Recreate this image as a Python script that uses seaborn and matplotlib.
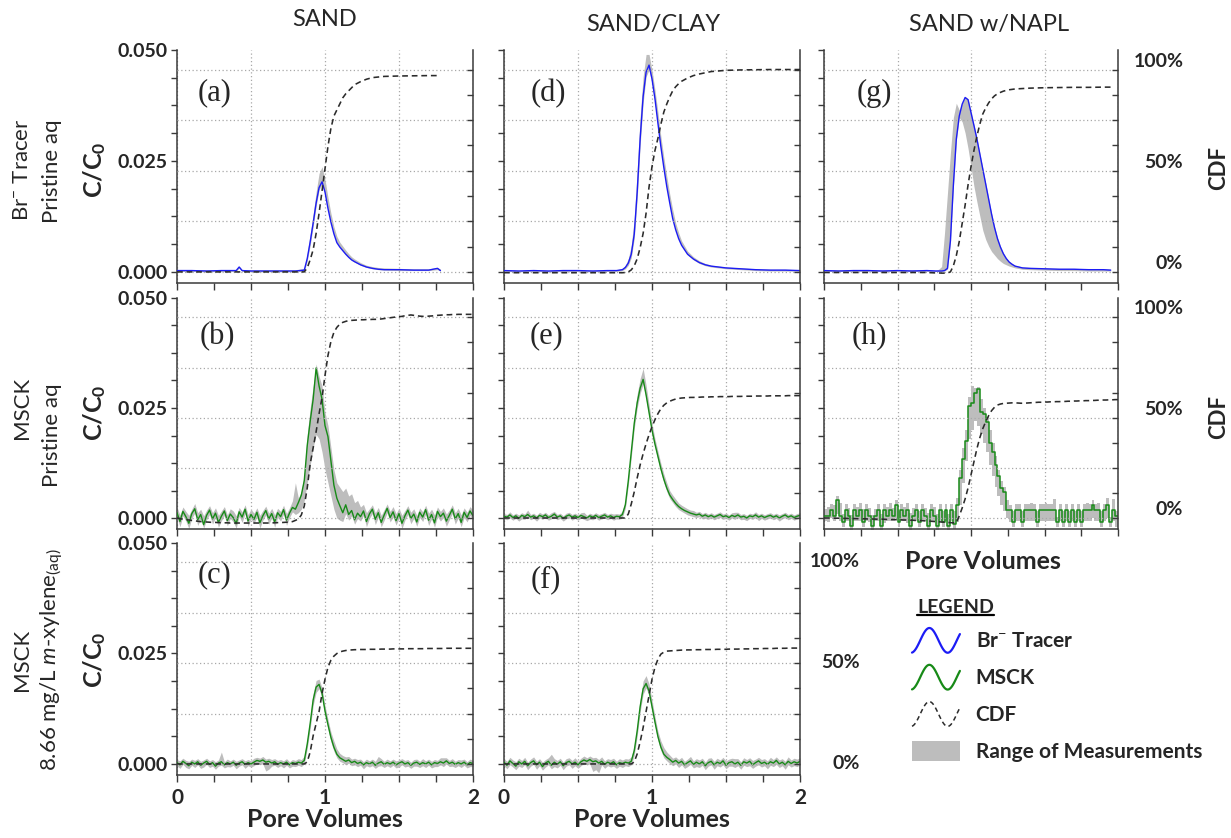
import numpy as np
import matplotlib
matplotlib.use("Agg")
import matplotlib.pyplot as plt
import matplotlib.transforms as mtransforms
from matplotlib.lines import Line2D
from matplotlib.patches import Patch, Rectangle
from matplotlib.legend_handler import HandlerBase, HandlerPatch
from matplotlib.ticker import MultipleLocator, FixedLocator
from matplotlib.font_manager import FontProperties
import seaborn as sns

# ============================ DATA ============================
COL_TITLES = ["SAND", "SAND/CLAY", "SAND w/NAPL"]
ROW_LINE1 = ["Br$^{-}$ Tracer", "MSCK", "MSCK"]
ROW_LINE2 = ["Pristine aq", "Pristine aq", "8.66 mg/L $m$-xylene$_{\\rm (aq)}$"]
C_TICKS = [0.0, 0.025, 0.050]
C_TICKLABELS = ["0.000", "0.025", "0.050"]
CDF_TICKS = [0.0, 0.25, 0.5, 0.75, 1.0]
CDF_TICKLABELS = ["0%", "", "50%", "", "100%"]
PV_TICKS = [0.0, 0.5, 1.0, 1.5, 2.0]
PV_TICKLABELS = ["0", "", "1", "", "2"]
LEGEND_LABELS = ["Br$^{-}$ Tracer", "MSCK", "CDF", "Range of Measurements"]

# regular pore-volume sampling grid used by the noisy MSCK records
PV = [round(0.02 * i, 2) for i in range(101)]

# ---- (a) Br- tracer, SAND ----
a_pv = [0.00, 0.10, 0.20, 0.30, 0.40, 0.42, 0.44, 0.50, 0.60, 0.70,
        0.80, 0.86, 0.88, 0.90, 0.92, 0.94, 0.96, 0.98, 1.00, 1.02,
        1.04, 1.06, 1.08, 1.10, 1.12, 1.14, 1.16, 1.18, 1.20, 1.24,
        1.28, 1.32, 1.36, 1.40, 1.50, 1.60, 1.70, 1.76, 1.78]
a_br = [0.0003, 0.0003, 0.0002, 0.0003, 0.0003, 0.0011, 0.0003, 0.0002, 0.0002, 0.0002,
        0.0002, 0.0004, 0.0030, 0.0068, 0.0110, 0.0155, 0.0190, 0.0203, 0.0180, 0.0143,
        0.0112, 0.0086, 0.0066, 0.0056, 0.0048, 0.0040, 0.0033, 0.0027, 0.0023, 0.0016,
        0.0011, 0.0008, 0.0006, 0.0005, 0.0005, 0.0004, 0.0004, 0.0008, 0.0003]
a_lo = [0.0001, 0.0001, 0.0000, 0.0001, 0.0001, 0.0009, 0.0001, 0.0000, 0.0000, 0.0000,
        0.0000, 0.0002, 0.0025, 0.0060, 0.0102, 0.0148, 0.0185, 0.0198, 0.0176, 0.0140,
        0.0110, 0.0085, 0.0066, 0.0055, 0.0047, 0.0039, 0.0032, 0.0026, 0.0022, 0.0015,
        0.0010, 0.0007, 0.0005, 0.0004, 0.0003, 0.0003, 0.0003, 0.0005, 0.0002]
a_hi = [0.0005, 0.0005, 0.0005, 0.0005, 0.0005, 0.0013, 0.0005, 0.0005, 0.0005, 0.0005,
        0.0005, 0.0008, 0.0042, 0.0085, 0.0130, 0.0180, 0.0222, 0.0237, 0.0208, 0.0168,
        0.0132, 0.0102, 0.0080, 0.0067, 0.0058, 0.0049, 0.0041, 0.0034, 0.0029, 0.0021,
        0.0015, 0.0012, 0.0010, 0.0009, 0.0008, 0.0007, 0.0007, 0.0010, 0.0006]
a_cdf = [0.0, 0.0, 0.0, 0.0, 0.0, 0.0, 0.0, 0.0, 0.0, 0.0,
         0.0, 0.0, 0.02, 0.06, 0.11, 0.19, 0.29, 0.40, 0.51, 0.62,
         0.71, 0.77, 0.80, 0.83, 0.86, 0.88, 0.895, 0.91, 0.925, 0.94,
         0.952, 0.96, 0.963, 0.966, 0.968, 0.969, 0.970, 0.970, 0.970]

# ---- (d) Br- tracer, SAND/CLAY ----
d_pv = [0.00, 0.10, 0.20, 0.30, 0.40, 0.50, 0.60, 0.70, 0.76, 0.80,
        0.82, 0.84, 0.86, 0.88, 0.90, 0.92, 0.94, 0.96, 0.98, 1.00,
        1.02, 1.04, 1.06, 1.08, 1.10, 1.12, 1.14, 1.16, 1.18, 1.20,
        1.24, 1.28, 1.32, 1.36, 1.40, 1.50, 1.60, 1.70, 1.80, 1.90, 2.00]
d_br = [0.0003, 0.0002, 0.0003, 0.0002, 0.0003, 0.0003, 0.0002, 0.0003, 0.0003, 0.0005,
        0.0010, 0.0020, 0.0040, 0.0085, 0.0180, 0.0300, 0.0395, 0.0450, 0.0466, 0.0435,
        0.0390, 0.0335, 0.0282, 0.0235, 0.0192, 0.0155, 0.0120, 0.0095, 0.0075, 0.0060,
        0.0040, 0.0029, 0.0021, 0.0016, 0.0013, 0.0009, 0.0007, 0.0005, 0.0004, 0.0004, 0.0003]
d_lo = [0.0001, 0.0000, 0.0001, 0.0000, 0.0001, 0.0001, 0.0000, 0.0001, 0.0001, 0.0003,
        0.0007, 0.0015, 0.0032, 0.0075, 0.0165, 0.0285, 0.0380, 0.0440, 0.0455, 0.0425,
        0.0380, 0.0325, 0.0275, 0.0230, 0.0188, 0.0152, 0.0118, 0.0093, 0.0073, 0.0058,
        0.0038, 0.0027, 0.0019, 0.0014, 0.0011, 0.0007, 0.0005, 0.0003, 0.0002, 0.0002, 0.0001]
d_hi = [0.0005, 0.0004, 0.0005, 0.0004, 0.0005, 0.0005, 0.0004, 0.0005, 0.0005, 0.0008,
        0.0015, 0.0030, 0.0060, 0.0120, 0.0230, 0.0350, 0.0440, 0.0490, 0.0490, 0.0455,
        0.0410, 0.0360, 0.0305, 0.0258, 0.0215, 0.0175, 0.0140, 0.0110, 0.0088, 0.0070,
        0.0047, 0.0034, 0.0025, 0.0019, 0.0015, 0.0011, 0.0009, 0.0007, 0.0006, 0.0006, 0.0005]
d_cdf = [-0.004, -0.004, -0.004, -0.004, -0.004, -0.004, -0.004, -0.004, -0.004, -0.004,
         -0.003, 0.0, 0.01, 0.03, 0.065, 0.12, 0.19, 0.29, 0.42, 0.52,
         0.60, 0.66, 0.73, 0.79, 0.83, 0.865, 0.895, 0.915, 0.93, 0.942,
         0.958, 0.97, 0.978, 0.984, 0.99, 0.996, 0.998, 0.999, 1.0, 1.0, 1.0]

# ---- (g) Br- tracer, SAND w/NAPL ----
g_pv = [0.00, 0.10, 0.20, 0.30, 0.40, 0.50, 0.60, 0.70,
        0.76, 0.78, 0.80, 0.82, 0.84, 0.86, 0.88, 0.90, 0.92, 0.94,
        0.96, 0.98, 1.00, 1.02, 1.04, 1.06, 1.08, 1.10, 1.12, 1.14,
        1.16, 1.18, 1.20, 1.22, 1.24, 1.26, 1.28, 1.30,
        1.35, 1.40, 1.50, 1.60, 1.70, 1.80, 1.90, 1.95]
g_br = [0.0003, 0.0002, 0.0003, 0.0003, 0.0002, 0.0003, 0.0002, 0.0003,
        0.0002, 0.0002, 0.0002, 0.0003, 0.0008, 0.0070, 0.0195, 0.0299, 0.0351, 0.0378,
        0.0393, 0.0388, 0.0359, 0.0330, 0.0300, 0.0266, 0.0232, 0.0198, 0.0164, 0.0130,
        0.0100, 0.0075, 0.0056, 0.0041, 0.0030, 0.0022, 0.0017, 0.0013,
        0.0009, 0.0008, 0.0007, 0.0006, 0.0006, 0.0005, 0.0005, 0.0004]
g_lo = [0.0001, 0.0001, 0.0001, 0.0001, 0.0001, 0.0001, 0.0001, 0.0001,
        0.0001, 0.0001, 0.0001, 0.0002, 0.0006, 0.0065, 0.0190, 0.0295, 0.0348, 0.0338,
        0.0313, 0.0278, 0.0236, 0.0193, 0.0158, 0.0126, 0.0094, 0.0073, 0.0058, 0.0046,
        0.0038, 0.0030, 0.0024, 0.0019, 0.0016, 0.0013, 0.0011, 0.0009,
        0.0006, 0.0005, 0.0004, 0.0003, 0.0003, 0.0002, 0.0002, 0.0002]
g_hi = [0.0005, 0.0005, 0.0005, 0.0005, 0.0005, 0.0005, 0.0005, 0.0005,
        0.0004, 0.0006, 0.0012, 0.0088, 0.0178, 0.0268, 0.0348, 0.0380, 0.0365, 0.0380,
        0.0395, 0.0390, 0.0361, 0.0332, 0.0302, 0.0268, 0.0234, 0.0200, 0.0166, 0.0132,
        0.0102, 0.0077, 0.0058, 0.0043, 0.0032, 0.0024, 0.0019, 0.0015,
        0.0011, 0.0010, 0.0009, 0.0008, 0.0008, 0.0007, 0.0007, 0.0006]
g_cdf = [-0.003, -0.003, -0.003, -0.003, -0.003, -0.003, -0.003, -0.003,
         -0.005, -0.005, -0.006, -0.006, -0.005, 0.0, 0.03, 0.08, 0.15, 0.24,
         0.33, 0.43, 0.52, 0.60, 0.67, 0.73, 0.78, 0.81, 0.835, 0.855,
         0.87, 0.88, 0.887, 0.893, 0.897, 0.90, 0.902, 0.904,
         0.906, 0.908, 0.91, 0.911, 0.912, 0.912, 0.913, 0.913]

# ---- (b) MSCK, SAND (on PV grid) ----
b_msck = [0.0012, -0.0008, 0.0015, 0.0003, -0.0012, 0.0010, 0.0021, -0.0004, 0.0008, -0.0015,
          0.0006, 0.0018, -0.0002, 0.0011, -0.0010, 0.0004, 0.0016, -0.0006, 0.0009, 0.0001,
          -0.0013, 0.0014, 0.0002, 0.0020, -0.0007, 0.0008, -0.0003, 0.0013, -0.0011, 0.0005,
          0.0017, -0.0002, 0.0010, -0.0009, 0.0012, 0.0003, 0.0019, -0.0005, 0.0011, 0.0024,
          0.0020, 0.0035, 0.0052, 0.0085, 0.0165, 0.0220, 0.0270, 0.0341, 0.0300, 0.0270,
          0.0210, 0.0185, 0.0130, 0.0075, 0.0045, 0.0028, 0.0012, 0.0030, 0.0008, 0.0017,
          -0.0004, 0.0011, 0.0003, 0.0016, -0.0008, 0.0009, 0.0020, -0.0003, 0.0012, -0.0010,
          0.0007, 0.0022, 0.0001, 0.0014, -0.0006, 0.0010, -0.0012, 0.0005, 0.0018, -0.0001,
          0.0009, -0.0009, 0.0013, 0.0002, 0.0019, -0.0005, 0.0008, -0.0011, 0.0015, 0.0003,
          0.0011, -0.0007, 0.0006, 0.0020, -0.0002, 0.0010, -0.0010, 0.0013, 0.0001, 0.0016,
          0.0005]
b_up = [0.0012, 0.0015, 0.0010, 0.0012, 0.0018, 0.0010, 0.0012, 0.0016, 0.0012, 0.0020,
        0.0012, 0.0010, 0.0014, 0.0012, 0.0016, 0.0012, 0.0010, 0.0013, 0.0012, 0.0015,
        0.0018, 0.0010, 0.0012, 0.0010, 0.0015, 0.0012, 0.0014, 0.0010, 0.0017, 0.0012,
        0.0010, 0.0013, 0.0012, 0.0016, 0.0010, 0.0012, 0.0010, 0.0015, 0.0012, 0.0015,
        0.0060, 0.0010, 0.0008, 0.0015, 0.0025, 0.0030, 0.0030, 0.0009, 0.0022, 0.0030,
        0.0030, 0.0025, 0.0030, 0.0035, 0.0035, 0.0042, 0.0048, 0.0038, 0.0042, 0.0038,
        0.0039, 0.0029, 0.0022, 0.0015, 0.0020, 0.0012, 0.0010, 0.0015, 0.0012, 0.0016,
        0.0012, 0.0010, 0.0014, 0.0012, 0.0016, 0.0012, 0.0018, 0.0012, 0.0010, 0.0014,
        0.0012, 0.0015, 0.0010, 0.0012, 0.0010, 0.0016, 0.0012, 0.0018, 0.0010, 0.0012,
        0.0012, 0.0016, 0.0012, 0.0010, 0.0014, 0.0012, 0.0017, 0.0010, 0.0012, 0.0010,
        0.0012]
b_dn = [0.0010, 0.0012, 0.0010, 0.0010, 0.0012, 0.0010, 0.0010, 0.0013, 0.0010, 0.0008,
        0.0010, 0.0010, 0.0012, 0.0010, 0.0011, 0.0010, 0.0010, 0.0012, 0.0010, 0.0010,
        0.0010, 0.0010, 0.0012, 0.0010, 0.0012, 0.0010, 0.0010, 0.0010, 0.0012, 0.0010,
        0.0010, 0.0012, 0.0010, 0.0012, 0.0010, 0.0010, 0.0010, 0.0012, 0.0010, 0.0010,
        0.0012, 0.0023, 0.0032, 0.0045, 0.0085, 0.0100, 0.0110, 0.0151, 0.0120, 0.0120,
        0.0100, 0.0105, 0.0080, 0.0055, 0.0045, 0.0033, 0.0020, 0.0020, 0.0013, 0.0012,
        0.0010, 0.0012, 0.0010, 0.0010, 0.0012, 0.0010, 0.0010, 0.0012, 0.0010, 0.0010,
        0.0012, 0.0010, 0.0010, 0.0012, 0.0010, 0.0010, 0.0012, 0.0010, 0.0010, 0.0012,
        0.0010, 0.0010, 0.0012, 0.0010, 0.0010, 0.0012, 0.0010, 0.0010, 0.0012, 0.0010,
        0.0010, 0.0012, 0.0010, 0.0010, 0.0012, 0.0010, 0.0010, 0.0012, 0.0010, 0.0010,
        0.0010]
b_cdf = [0.000, -0.003, -0.006, -0.008, -0.010, -0.012, -0.014, -0.016, -0.018, -0.019,
         -0.020, -0.021, -0.022, -0.022, -0.023, -0.023, -0.024, -0.024, -0.025, -0.025,
         -0.025, -0.025, -0.025, -0.025, -0.025, -0.025, -0.025, -0.025, -0.025, -0.025,
         -0.025, -0.025, -0.024, -0.024, -0.023, -0.023, -0.022, -0.021, -0.020, -0.018,
         -0.012, -0.005, 0.015, 0.06, 0.15, 0.27, 0.35, 0.43, 0.52, 0.60,
         0.71, 0.81, 0.88, 0.925, 0.95, 0.966, 0.975, 0.980, 0.984, 0.985,
         0.986, 0.987, 0.988, 0.988, 0.989, 0.989, 0.990, 0.990, 0.991, 0.992,
         0.994, 0.996, 0.998, 1.000, 1.002, 1.003, 1.005, 1.008, 1.010, 1.012,
         1.010, 1.008, 1.006, 1.005, 1.005, 1.006, 1.007, 1.008, 1.010, 1.011,
         1.012, 1.013, 1.013, 1.014, 1.014, 1.015, 1.015, 1.015, 1.015, 1.015,
         1.015]

# ---- (e) MSCK, SAND/CLAY ----
e_msck = [0.0004, 0.0002, 0.0007, 0.0001, 0.0005, -0.0001, 0.0006, 0.0003, 0.0008, 0.0002,
          0.0005, 0.0000, 0.0006, 0.0003, 0.0007, 0.0001, 0.0004, 0.0009, 0.0002, 0.0005,
          -0.0001, 0.0004, 0.0007, 0.0002, 0.0005, 0.0001, 0.0006, 0.0003, 0.0000, 0.0005,
          0.0002, 0.0006, 0.0001, 0.0004, 0.0007, 0.0002, 0.0005, 0.0001, 0.0004, 0.0003,
          0.0008, 0.0030, 0.0085, 0.0150, 0.0215, 0.0262, 0.0295, 0.0315, 0.0280, 0.0240,
          0.0200, 0.0168, 0.0140, 0.0112, 0.0088, 0.0068, 0.0052, 0.0042, 0.0033, 0.0026,
          0.0021, 0.0017, 0.0014, 0.0011, 0.0009, 0.0007, 0.0009, 0.0004, 0.0007, 0.0003,
          0.0006, 0.0002, 0.0005, 0.0008, 0.0003, 0.0005, 0.0001, 0.0006, 0.0003, 0.0007,
          0.0002, 0.0004, 0.0000, 0.0005, 0.0003, 0.0007, 0.0002, 0.0005, 0.0001, 0.0004,
          0.0006, 0.0002, 0.0005, 0.0000, 0.0004, 0.0007, 0.0002, 0.0005, 0.0001, 0.0004,
          0.0006]
e_up = [0.0006, 0.0006, 0.0007, 0.0006, 0.0006, 0.0008, 0.0006, 0.0006, 0.0010, 0.0006,
        0.0006, 0.0006, 0.0007, 0.0006, 0.0006, 0.0006, 0.0008, 0.0006, 0.0006, 0.0006,
        0.0006, 0.0007, 0.0006, 0.0006, 0.0006, 0.0006, 0.0006, 0.0010, 0.0006, 0.0006,
        0.0006, 0.0006, 0.0007, 0.0006, 0.0006, 0.0006, 0.0006, 0.0008, 0.0006, 0.0006,
        0.0008, 0.0010, 0.0012, 0.0015, 0.0018, 0.0020, 0.0022, 0.0025, 0.0022, 0.0018,
        0.0015, 0.0012, 0.0012, 0.0012, 0.0012, 0.0012, 0.0010, 0.0010, 0.0010, 0.0008,
        0.0008, 0.0008, 0.0007, 0.0007, 0.0008, 0.0006, 0.0006, 0.0006, 0.0006, 0.0006,
        0.0006, 0.0006, 0.0006, 0.0006, 0.0006, 0.0006, 0.0006, 0.0006, 0.0010, 0.0006,
        0.0006, 0.0006, 0.0006, 0.0006, 0.0006, 0.0007, 0.0006, 0.0006, 0.0006, 0.0006,
        0.0006, 0.0006, 0.0006, 0.0007, 0.0006, 0.0006, 0.0006, 0.0006, 0.0006, 0.0006,
        0.0006]
e_dn = [0.0006, 0.0006, 0.0007, 0.0006, 0.0006, 0.0006, 0.0008, 0.0006, 0.0006, 0.0006,
        0.0006, 0.0007, 0.0006, 0.0006, 0.0006, 0.0006, 0.0006, 0.0008, 0.0006, 0.0006,
        0.0006, 0.0006, 0.0006, 0.0007, 0.0006, 0.0006, 0.0006, 0.0006, 0.0006, 0.0008,
        0.0006, 0.0006, 0.0006, 0.0006, 0.0007, 0.0006, 0.0006, 0.0006, 0.0006, 0.0006,
        0.0006, 0.0008, 0.0010, 0.0012, 0.0012, 0.0012, 0.0012, 0.0010, 0.0010, 0.0010,
        0.0010, 0.0008, 0.0008, 0.0008, 0.0008, 0.0008, 0.0008, 0.0007, 0.0007, 0.0007,
        0.0006, 0.0006, 0.0007, 0.0006, 0.0006, 0.0006, 0.0006, 0.0006, 0.0008, 0.0006,
        0.0006, 0.0006, 0.0006, 0.0007, 0.0006, 0.0006, 0.0006, 0.0006, 0.0006, 0.0006,
        0.0006, 0.0007, 0.0006, 0.0006, 0.0006, 0.0006, 0.0008, 0.0006, 0.0006, 0.0006,
        0.0006, 0.0006, 0.0006, 0.0007, 0.0006, 0.0006, 0.0006, 0.0006, 0.0006, 0.0006,
        0.0006]
e_cdf = [0.0, 0.0, 0.0, 0.0, 0.0, 0.0, 0.0, 0.0, 0.0, 0.0,
         0.0, 0.0, 0.0, 0.0, 0.0, 0.0, 0.0, 0.0, 0.0, 0.0,
         0.0, 0.0, 0.0, 0.0, 0.0, 0.0, 0.0, 0.0, 0.0, 0.0,
         0.0, 0.0, 0.0, 0.0, 0.0, 0.0, 0.0, 0.0, 0.0, 0.0,
         0.0, 0.0, 0.02, 0.07, 0.13, 0.20, 0.265, 0.32, 0.37, 0.415,
         0.455, 0.49, 0.52, 0.545, 0.562, 0.574, 0.582, 0.588, 0.593, 0.596,
         0.598, 0.599, 0.600, 0.601, 0.601, 0.602, 0.602, 0.603, 0.603, 0.603,
         0.604, 0.604, 0.604, 0.605, 0.605, 0.605, 0.605, 0.606, 0.606, 0.606,
         0.606, 0.607, 0.607, 0.607, 0.607, 0.608, 0.608, 0.608, 0.608, 0.608,
         0.609, 0.609, 0.609, 0.609, 0.609, 0.609, 0.610, 0.610, 0.610, 0.610,
         0.610]

# ---- (h) MSCK, SAND w/NAPL ----
h_msck = [0.0005, 0.0005, 0.0019, 0.0005, 0.0040, 0.0005, -0.0010, 0.0019, 0.0005, -0.0019,
          0.0019, 0.0005, 0.0019, -0.0010, 0.0019, 0.0005, -0.0019, 0.0005, 0.0019, -0.0019,
          0.0019, 0.0005, 0.0019, 0.0005, 0.0030, -0.0010, 0.0019, 0.0005, 0.0019, -0.0019,
          0.0005, 0.0019, -0.0010, 0.0019, 0.0005, -0.0019, 0.0019, 0.0005, -0.0019, 0.0019,
          -0.0010, 0.0019, -0.0019, 0.0019, -0.0014, 0.0030, 0.0090, 0.0135, 0.0175, 0.0255,
          0.0262, 0.0285, 0.0294, 0.0240, 0.0236, 0.0218, 0.0170, 0.0150, 0.0120, 0.0095,
          0.0068, 0.0060, 0.0019, 0.0019, -0.0010, 0.0019, 0.0019, -0.0010, 0.0019, 0.0019,
          0.0019, 0.0019, -0.0010, 0.0019, 0.0019, 0.0019, 0.0019, 0.0019, 0.0019, -0.0010,
          0.0019, -0.0010, 0.0019, -0.0010, 0.0019, -0.0010, 0.0019, -0.0010, 0.0019, 0.0019,
          0.0019, 0.0030, 0.0019, 0.0019, -0.0010, 0.0019, 0.0030, -0.0010, 0.0019, 0.0005,
          0.0005]
h_up = [0.0015, 0.0020, 0.0012, 0.0025, 0.0010, 0.0030, 0.0020, 0.0012, 0.0018, 0.0025,
        0.0012, 0.0020, 0.0015, 0.0030, 0.0012, 0.0018, 0.0025, 0.0015, 0.0012, 0.0028,
        0.0012, 0.0020, 0.0015, 0.0018, 0.0012, 0.0025, 0.0012, 0.0020, 0.0015, 0.0030,
        0.0018, 0.0012, 0.0025, 0.0012, 0.0018, 0.0030, 0.0012, 0.0020, 0.0028, 0.0012,
        0.0025, 0.0012, 0.0028, 0.0012, 0.0030, 0.0015, 0.0020, 0.0025, 0.0025, 0.0020,
        0.0038, 0.0010, 0.0003, 0.0030, 0.0014, 0.0012, 0.0030, 0.0020, 0.0020, 0.0015,
        0.0017, 0.0010, 0.0021, 0.0011, 0.0025, 0.0012, 0.0012, 0.0025, 0.0012, 0.0012,
        0.0015, 0.0012, 0.0025, 0.0012, 0.0012, 0.0015, 0.0012, 0.0012, 0.0025, 0.0012,
        0.0012, 0.0025, 0.0012, 0.0025, 0.0012, 0.0025, 0.0012, 0.0025, 0.0012, 0.0015,
        0.0012, 0.0012, 0.0012, 0.0015, 0.0025, 0.0012, 0.0015, 0.0012, 0.0025, 0.0012,
        0.0015]
h_dn = [0.0012, 0.0015, 0.0020, 0.0012, 0.0030, 0.0012, 0.0010, 0.0025, 0.0012, 0.0010,
        0.0025, 0.0012, 0.0025, 0.0010, 0.0025, 0.0015, 0.0010, 0.0012, 0.0025, 0.0010,
        0.0030, 0.0012, 0.0025, 0.0012, 0.0030, 0.0010, 0.0025, 0.0012, 0.0030, 0.0010,
        0.0012, 0.0025, 0.0010, 0.0025, 0.0012, 0.0010, 0.0025, 0.0012, 0.0010, 0.0025,
        0.0010, 0.0025, 0.0010, 0.0025, 0.0010, 0.0040, 0.0060, 0.0055, 0.0045, 0.0075,
        0.0062, 0.0065, 0.0084, 0.0050, 0.0066, 0.0068, 0.0050, 0.0055, 0.0050, 0.0045,
        0.0038, 0.0045, 0.0019, 0.0029, 0.0010, 0.0025, 0.0025, 0.0010, 0.0025, 0.0025,
        0.0025, 0.0025, 0.0010, 0.0025, 0.0025, 0.0025, 0.0025, 0.0025, 0.0025, 0.0010,
        0.0025, 0.0010, 0.0025, 0.0010, 0.0025, 0.0010, 0.0025, 0.0010, 0.0025, 0.0025,
        0.0025, 0.0030, 0.0025, 0.0025, 0.0010, 0.0025, 0.0030, 0.0010, 0.0025, 0.0025,
        0.0012]
h_cdf = [0.000, 0.000, 0.000, -0.001, -0.001, -0.001, -0.002, -0.002, -0.002, -0.003,
         -0.003, -0.003, -0.004, -0.004, -0.004, -0.005, -0.005, -0.005, -0.006, -0.006,
         -0.006, -0.007, -0.007, -0.008, -0.008, -0.009, -0.009, -0.010, -0.010, -0.011,
         -0.011, -0.012, -0.012, -0.013, -0.014, -0.015, -0.016, -0.017, -0.018, -0.019,
         -0.020, -0.021, -0.022, -0.023, -0.024, -0.024, 0.010, 0.050, 0.095, 0.150,
         0.215, 0.280, 0.345, 0.400, 0.445, 0.480, 0.510, 0.535, 0.552, 0.563,
         0.568, 0.571, 0.572, 0.573, 0.574, 0.574, 0.573, 0.572, 0.572, 0.573,
         0.574, 0.575, 0.576, 0.577, 0.577, 0.578, 0.578, 0.579, 0.579, 0.580,
         0.580, 0.581, 0.581, 0.582, 0.582, 0.583, 0.583, 0.584, 0.584, 0.585,
         0.585, 0.586, 0.586, 0.587, 0.587, 0.588, 0.588, 0.589, 0.589, 0.590,
         0.590]

# ---- (c) MSCK + 8.66 mg/L m-xylene, SAND ----
c_msck = [0.0003, -0.0002, 0.0006, 0.0001, -0.0004, 0.0004, 0.0000, 0.0005, -0.0003, 0.0002,
          0.0006, -0.0001, 0.0003, -0.0005, 0.0002, 0.0005, -0.0002, 0.0003, 0.0000, 0.0004,
          -0.0003, 0.0002, 0.0005, -0.0001, 0.0003, 0.0000, 0.0004, 0.0008, 0.0006, 0.0009,
          0.0004, 0.0006, 0.0002, 0.0005, -0.0001, 0.0003, 0.0000, 0.0004, -0.0002, 0.0003,
          0.0001, 0.0004, 0.0002, 0.0008, 0.0045, 0.0092, 0.0145, 0.0174, 0.0180, 0.0160,
          0.0120, 0.0089, 0.0060, 0.0038, 0.0022, 0.0014, 0.0010, 0.0006, 0.0009, 0.0003,
          0.0006, 0.0001, 0.0004, -0.0002, 0.0003, 0.0000, 0.0004, -0.0003, 0.0002, 0.0005,
          -0.0001, 0.0003, 0.0000, 0.0004, -0.0002, 0.0002, 0.0005, 0.0000, 0.0003, -0.0003,
          0.0002, 0.0004, -0.0001, 0.0003, 0.0000, 0.0004, -0.0002, 0.0003, 0.0001, 0.0005,
          0.0002, 0.0007, 0.0001, 0.0004, -0.0001, 0.0003, 0.0000, 0.0004, -0.0002, 0.0003,
          0.0001]
c_up = [0.0007, 0.0009, 0.0007, 0.0007, 0.0010, 0.0007, 0.0008, 0.0007, 0.0009, 0.0007,
        0.0007, 0.0008, 0.0007, 0.0010, 0.0007, 0.0022, 0.0007, 0.0008, 0.0007, 0.0007,
        0.0009, 0.0007, 0.0007, 0.0008, 0.0007, 0.0007, 0.0009, 0.0007, 0.0007, 0.0008,
        0.0007, 0.0007, 0.0008, 0.0007, 0.0009, 0.0007, 0.0007, 0.0008, 0.0007, 0.0007,
        0.0007, 0.0008, 0.0008, 0.0010, 0.0012, 0.0014, 0.0015, 0.0015, 0.0012, 0.0012,
        0.0012, 0.0012, 0.0012, 0.0014, 0.0012, 0.0010, 0.0009, 0.0010, 0.0008, 0.0008,
        0.0007, 0.0009, 0.0007, 0.0007, 0.0008, 0.0007, 0.0007, 0.0009, 0.0015, 0.0007,
        0.0007, 0.0008, 0.0007, 0.0007, 0.0009, 0.0007, 0.0007, 0.0008, 0.0007, 0.0007,
        0.0008, 0.0007, 0.0007, 0.0009, 0.0007, 0.0007, 0.0008, 0.0007, 0.0007, 0.0009,
        0.0012, 0.0007, 0.0007, 0.0008, 0.0007, 0.0007, 0.0009, 0.0007, 0.0007, 0.0008,
        0.0007]
c_dn = [0.0007, 0.0008, 0.0007, 0.0009, 0.0007, 0.0007, 0.0008, 0.0007, 0.0007, 0.0009,
        0.0007, 0.0007, 0.0008, 0.0007, 0.0007, 0.0008, 0.0007, 0.0009, 0.0007, 0.0007,
        0.0008, 0.0007, 0.0007, 0.0009, 0.0007, 0.0007, 0.0008, 0.0007, 0.0007, 0.0009,
        0.0020, 0.0018, 0.0007, 0.0008, 0.0007, 0.0007, 0.0009, 0.0007, 0.0007, 0.0008,
        0.0007, 0.0007, 0.0008, 0.0008, 0.0010, 0.0012, 0.0012, 0.0012, 0.0010, 0.0010,
        0.0010, 0.0010, 0.0010, 0.0009, 0.0008, 0.0008, 0.0007, 0.0008, 0.0007, 0.0007,
        0.0008, 0.0007, 0.0007, 0.0009, 0.0007, 0.0007, 0.0008, 0.0007, 0.0007, 0.0009,
        0.0007, 0.0007, 0.0008, 0.0007, 0.0007, 0.0009, 0.0007, 0.0007, 0.0008, 0.0007,
        0.0007, 0.0009, 0.0007, 0.0007, 0.0008, 0.0007, 0.0007, 0.0009, 0.0007, 0.0007,
        0.0008, 0.0007, 0.0007, 0.0009, 0.0007, 0.0007, 0.0008, 0.0007, 0.0007, 0.0009,
        0.0007]
c_cdf = [0.0, 0.0, 0.0, 0.0, 0.0, 0.0, 0.0, 0.0, 0.0, 0.0,
         0.0, 0.0, 0.0, 0.0, 0.0, 0.0, 0.0, 0.0, 0.0, 0.0,
         0.0, 0.0, 0.0, 0.0, 0.0, 0.0, 0.0, 0.0, 0.0, 0.0,
         0.0, 0.0, 0.0, 0.0, 0.0, 0.0, 0.0, 0.0, 0.0, 0.0,
         0.0, 0.0, 0.0, 0.0, 0.01, 0.06, 0.14, 0.20, 0.26, 0.35,
         0.42, 0.48, 0.515, 0.535, 0.548, 0.556, 0.560, 0.563, 0.565, 0.566,
         0.567, 0.567, 0.568, 0.568, 0.568, 0.569, 0.569, 0.569, 0.569, 0.570,
         0.570, 0.570, 0.570, 0.571, 0.571, 0.571, 0.571, 0.571, 0.572, 0.572,
         0.572, 0.572, 0.572, 0.572, 0.573, 0.573, 0.573, 0.573, 0.573, 0.573,
         0.573, 0.574, 0.574, 0.574, 0.574, 0.574, 0.574, 0.574, 0.574, 0.574,
         0.574]

# ---- (f) MSCK + 8.66 mg/L m-xylene, SAND/CLAY ----
f_msck = [0.0004, -0.0003, 0.0007, 0.0001, -0.0005, 0.0005, 0.0000, 0.0006, -0.0004, 0.0003,
          0.0007, -0.0002, 0.0004, -0.0006, 0.0002, 0.0006, -0.0003, 0.0004, -0.0001, 0.0005,
          -0.0004, 0.0003, 0.0006, 0.0000, 0.0004, -0.0002, 0.0005, 0.0009, 0.0006, 0.0010,
          0.0005, 0.0007, 0.0002, 0.0006, -0.0001, 0.0004, 0.0001, 0.0005, -0.0002, 0.0003,
          0.0001, 0.0004, 0.0002, 0.0006, 0.0030, 0.0075, 0.0130, 0.0170, 0.0182, 0.0165,
          0.0130, 0.0095, 0.0062, 0.0038, 0.0022, 0.0015, 0.0010, 0.0004, 0.0008, 0.0002,
          0.0006, -0.0002, 0.0003, 0.0007, -0.0001, 0.0004, 0.0000, 0.0005, -0.0004, 0.0003,
          0.0006, -0.0002, 0.0004, 0.0001, 0.0007, -0.0003, 0.0003, 0.0005, 0.0000, 0.0004,
          -0.0003, 0.0005, 0.0002, 0.0006, -0.0002, 0.0003, 0.0007, 0.0001, 0.0004, -0.0001,
          0.0005, 0.0002, 0.0008, 0.0000, 0.0004, -0.0002, 0.0006, 0.0001, 0.0005, 0.0002,
          0.0006]
f_up = [0.0008, 0.0009, 0.0008, 0.0008, 0.0010, 0.0008, 0.0008, 0.0009, 0.0008, 0.0008,
        0.0009, 0.0008, 0.0008, 0.0010, 0.0008, 0.0008, 0.0025, 0.0008, 0.0009, 0.0008,
        0.0008, 0.0009, 0.0008, 0.0008, 0.0010, 0.0008, 0.0008, 0.0009, 0.0008, 0.0008,
        0.0009, 0.0008, 0.0008, 0.0010, 0.0008, 0.0008, 0.0009, 0.0008, 0.0008, 0.0009,
        0.0008, 0.0008, 0.0009, 0.0010, 0.0012, 0.0014, 0.0016, 0.0018, 0.0018, 0.0016,
        0.0014, 0.0012, 0.0012, 0.0014, 0.0015, 0.0012, 0.0010, 0.0009, 0.0008, 0.0008,
        0.0009, 0.0008, 0.0008, 0.0010, 0.0008, 0.0008, 0.0009, 0.0008, 0.0008, 0.0010,
        0.0008, 0.0008, 0.0009, 0.0008, 0.0008, 0.0010, 0.0008, 0.0008, 0.0012, 0.0008,
        0.0008, 0.0009, 0.0008, 0.0008, 0.0010, 0.0008, 0.0008, 0.0009, 0.0008, 0.0008,
        0.0010, 0.0008, 0.0008, 0.0009, 0.0008, 0.0008, 0.0010, 0.0008, 0.0008, 0.0009,
        0.0008]
f_dn = [0.0008, 0.0008, 0.0009, 0.0008, 0.0008, 0.0010, 0.0008, 0.0008, 0.0009, 0.0008,
        0.0008, 0.0010, 0.0008, 0.0008, 0.0009, 0.0008, 0.0008, 0.0010, 0.0008, 0.0008,
        0.0009, 0.0008, 0.0008, 0.0010, 0.0008, 0.0008, 0.0009, 0.0008, 0.0008, 0.0010,
        0.0022, 0.0020, 0.0022, 0.0008, 0.0009, 0.0008, 0.0008, 0.0010, 0.0008, 0.0008,
        0.0009, 0.0008, 0.0008, 0.0008, 0.0010, 0.0012, 0.0012, 0.0012, 0.0010, 0.0010,
        0.0010, 0.0010, 0.0009, 0.0008, 0.0008, 0.0008, 0.0009, 0.0008, 0.0008, 0.0010,
        0.0008, 0.0008, 0.0009, 0.0008, 0.0008, 0.0010, 0.0008, 0.0008, 0.0009, 0.0008,
        0.0008, 0.0010, 0.0008, 0.0008, 0.0009, 0.0008, 0.0008, 0.0010, 0.0008, 0.0008,
        0.0009, 0.0008, 0.0008, 0.0010, 0.0008, 0.0008, 0.0009, 0.0008, 0.0008, 0.0010,
        0.0008, 0.0008, 0.0009, 0.0008, 0.0008, 0.0010, 0.0008, 0.0008, 0.0009, 0.0008,
        0.0008]
f_cdf = [0.0, 0.0, 0.0, 0.0, 0.0, 0.0, 0.0, 0.0, 0.0, 0.0,
         0.0, 0.0, 0.0, 0.0, 0.0, 0.0, 0.0, 0.0, 0.0, 0.0,
         0.0, 0.0, 0.0, 0.0, 0.0, 0.0, 0.0, 0.0, 0.0, 0.0,
         0.0, 0.0, 0.0, 0.0, 0.0, 0.0, 0.0, 0.0, 0.0, 0.0,
         0.0, 0.0, 0.0, 0.0, 0.01, 0.05, 0.11, 0.18, 0.26, 0.34,
         0.42, 0.48, 0.52, 0.545, 0.555, 0.560, 0.561, 0.562, 0.563, 0.564,
         0.565, 0.565, 0.566, 0.566, 0.566, 0.567, 0.567, 0.567, 0.568, 0.568,
         0.568, 0.568, 0.569, 0.569, 0.569, 0.569, 0.570, 0.570, 0.570, 0.570,
         0.571, 0.571, 0.571, 0.571, 0.572, 0.572, 0.572, 0.572, 0.573, 0.573,
         0.573, 0.573, 0.574, 0.574, 0.574, 0.574, 0.575, 0.575, 0.575, 0.575,
         0.575]

# ============================ STYLE ============================
sns.set_theme(style="ticks")
plt.rcParams["font.family"] = ["Lato", "DejaVu Sans"]
plt.rcParams["font.weight"] = "bold"
plt.rcParams["mathtext.fontset"] = "custom"
plt.rcParams["mathtext.rm"] = "Lato:weight=normal"
plt.rcParams["mathtext.it"] = "Lato:style=italic:weight=normal"
plt.rcParams["mathtext.bf"] = "Lato:weight=bold"

BLUE = "#1c1cf5"
GREEN = "#178a17"
BAND = "#bdbdbd"
DASH = "#2b2b2b"
SPINE = "#3a3a3a"
GRID = "#a8a8a8"
DASHES = (0, (3.6, 2.4))
CDF_FULL = 0.0456          # C/C0 height that corresponds to CDF = 100 %
YLIM = (-0.0025, 0.050)

W, H = 1231, 838
COL_LEFT = [177, 504, 824]
COL_RIGHT = [473, 800, 1118]
ROW_TOP = [50, 298, 543]
ROW_BOT = [283, 529, 775]

fig = plt.figure(figsize=(W / 100, H / 100), dpi=100)


def rect(row, col):
    l, r = COL_LEFT[col], COL_RIGHT[col]
    t, b = ROW_TOP[row], ROW_BOT[row]
    return [l / W, 1 - b / H, (r - l) / W, (b - t) / H]


def band(c, dn, up):
    c = np.asarray(c)
    return c - np.asarray(dn), c + np.asarray(up)


b_lo, b_hi = band(b_msck, b_dn, b_up)
e_lo, e_hi = band(e_msck, e_dn, e_up)
h_lo, h_hi = band(h_msck, h_dn, h_up)
c_lo, c_hi = band(c_msck, c_dn, c_up)
f_lo, f_hi = band(f_msck, f_dn, f_up)

PANELS = [
    (0, 0, "(a)", (0.071, 0.815), a_pv, a_br, a_lo, a_hi, a_cdf, BLUE, False),
    (0, 1, "(d)", (0.091, 0.815), d_pv, d_br, d_lo, d_hi, d_cdf, BLUE, False),
    (0, 2, "(g)", (0.110, 0.815), g_pv, g_br, g_lo, g_hi, g_cdf, BLUE, False),
    (1, 0, "(b)", (0.078, 0.835), PV, b_msck, b_lo, b_hi, b_cdf, GREEN, False),
    (1, 1, "(e)", (0.088, 0.835), PV, e_msck, e_lo, e_hi, e_cdf, GREEN, False),
    (1, 2, "(h)", (0.095, 0.835), PV, h_msck, h_lo, h_hi, h_cdf, GREEN, True),
    (2, 0, "(c)", (0.071, 0.862), PV, c_msck, c_lo, c_hi, c_cdf, GREEN, False),
    (2, 1, "(f)", (0.091, 0.840), PV, f_msck, f_lo, f_hi, f_cdf, GREEN, False),
]

for (row, col, tag, tagpos, pv, c, lo, hi, cdf, color, steps) in PANELS:
    ax = fig.add_axes(rect(row, col))
    ax2 = ax.twinx()

    if steps:
        ax.fill_between(pv, lo, hi, color=BAND, lw=0, step="post", zorder=1)
        sns.lineplot(x=pv, y=c, ax=ax, color=color, linewidth=1.1, estimator=None,
                     sort=False, drawstyle="steps-post", zorder=3)
    else:
        ax.fill_between(pv, lo, hi, color=BAND, lw=0, zorder=1)
        sns.lineplot(x=pv, y=c, ax=ax, color=color, linewidth=1.0, estimator=None,
                     sort=False, zorder=3)
    sns.lineplot(x=pv, y=cdf, ax=ax2, color=DASH, linewidth=1.15, estimator=None,
                 sort=False, linestyle=DASHES, zorder=3)

    # limits & ticks
    ax.set_xlim(0, 2)
    ax.set_ylim(*YLIM)
    ax2.set_ylim(YLIM[0] / CDF_FULL, YLIM[1] / CDF_FULL)
    ax.set_xticks(PV_TICKS)
    ax.set_xticklabels(PV_TICKLABELS)
    ax.xaxis.set_minor_locator(FixedLocator([0.25, 0.75, 1.25, 1.75]))
    ax.set_yticks(C_TICKS)
    ax.set_yticklabels(C_TICKLABELS)
    ax.yaxis.set_minor_locator(MultipleLocator(0.00625))
    ax2.set_yticks(CDF_TICKS)
    ax2.set_yticklabels(CDF_TICKLABELS)
    ax2.yaxis.set_minor_locator(MultipleLocator(0.125))
    ax.set_xlabel("")
    ax.set_ylabel("")
    ax2.set_ylabel("")

    ax.tick_params(axis="x", which="both", direction="out", length=5, width=1.0,
                   color=SPINE, labelsize=15, pad=4,
                   labelbottom=(row == 2))
    ax.tick_params(axis="y", which="both", direction="out", length=4, width=1.0,
                   color=SPINE, labelsize=14, pad=3, labelleft=(col == 0))
    show_right = (col == 2 and row < 2) or (row == 2 and col == 1)
    rpad = 47 if row < 2 else 43
    ax2.tick_params(axis="y", which="both", direction="in", length=4, width=1.0,
                    color=SPINE, labelsize=14, pad=rpad, labelright=show_right)
    for lab in ax.get_xticklabels() + ax.get_yticklabels():
        lab.set_fontweight("bold")
    if show_right:
        shift = 10 if row < 2 else 2
        off = mtransforms.ScaledTranslation(0, shift / 100, fig.dpi_scale_trans)
        for lab in ax2.get_yticklabels():
            lab.set_fontweight("bold")
            lab.set_horizontalalignment("right")
            lab.set_transform(lab.get_transform() + off)

    # grid
    ax.grid(axis="x", which="major", linestyle=(0, (1, 2)), color=GRID, linewidth=0.9)
    ax.grid(axis="y", visible=False)
    ax2.grid(axis="y", which="major", linestyle=(0, (1, 2)), color=GRID, linewidth=0.9)
    ax2.set_axisbelow(True)

    # spines
    for sp in ["top", "right"]:
        ax.spines[sp].set_visible(False)
    for sp in ["top", "left", "bottom"]:
        ax2.spines[sp].set_visible(False)
    for sp in ["left", "bottom"]:
        ax.spines[sp].set_color(SPINE)
        ax.spines[sp].set_linewidth(1.1)
    ax2.spines["right"].set_color(SPINE)
    ax2.spines["right"].set_linewidth(1.1)

    ax.text(tagpos[0], tagpos[1], tag, transform=ax.transAxes, ha="left", va="center",
            fontsize=22, fontweight="normal", family="Liberation Serif")

    if row == 2:
        ax.set_xlabel("Pore Volumes", fontsize=18, fontweight="bold", labelpad=0)
    if row == 1 and col == 2:
        ax.set_xlabel("Pore Volumes", fontsize=18, fontweight="bold")
        ax.xaxis.set_label_coords(0.541, -0.09)

# column titles
for x_px, y_px, t in zip([325, 653, 989], [20, 25, 25], COL_TITLES):
    fig.text(x_px / W, 1 - y_px / H, t, ha="center", va="center", fontsize=17,
             fontweight="normal")

# row labels and C/C0 labels
ROW_CENTER = [170, 413, 660]
for r in range(3):
    y1 = [170, 408, 660][r]
    y2 = [171, 435, 660][r]
    fig.text(22 / W, 1 - y1 / H, ROW_LINE1[r], rotation=90, ha="center", va="center",
             fontsize=16, fontweight="normal")
    fig.text(52 / W, 1 - y2 / H, ROW_LINE2[r], rotation=90, ha="center", va="center",
             fontsize=16, fontweight="normal")
    fig.text(95 / W, 1 - ROW_CENTER[r] / H, r"$\mathbf{C/C_0}$", rotation=90,
             ha="center", va="center", fontsize=18)

# CDF labels on the right
for y_px in [168, 417]:
    fig.text(1219 / W, 1 - y_px / H, "CDF", rotation=90, ha="center", va="center",
             fontsize=16, fontweight="bold")


# ----- legend -----
class WaveHandler(HandlerBase):
    def create_artists(self, legend, orig_handle, xdescent, ydescent, width, height,
                       fontsize, trans):
        t = np.linspace(0.0, 1.0, 80)
        theta = np.pi * (-0.45 + 2.62 * t)
        xs = -xdescent + t * width
        ys = -ydescent + height * (0.5 + 0.5 * np.sin(theta))
        line = Line2D(xs, ys)
        line.update_from(orig_handle)
        line.set_transform(trans)
        return [line]


def small_rect(legend, orig_handle, xdescent, ydescent, width, height, fontsize):
    return Rectangle((-xdescent, -ydescent + 0.1 * height), width, 0.8 * height)


h_blue = Line2D([], [], color=BLUE, linewidth=1.6)
h_green = Line2D([], [], color=GREEN, linewidth=1.6)
h_cdf = Line2D([], [], color=DASH, linewidth=1.1, linestyle=(0, (3.0, 2.2)))
h_band = Patch(facecolor=BAND, edgecolor="none")
wave = WaveHandler()
fig.legend([h_blue, h_green, h_cdf, h_band], LEGEND_LABELS,
           handler_map={h_blue: wave, h_green: wave, h_cdf: wave,
                        h_band: HandlerPatch(patch_func=small_rect)},
           loc="upper left", bbox_to_anchor=(912 / W, 1 - 628 / H), frameon=False,
           prop=FontProperties(family="Lato", weight="bold", size=15),
           handlelength=2.3, handleheight=1.45, handletextpad=0.75, labelspacing=0.58,
           borderpad=0.0, borderaxespad=0.0)

leg_title = fig.text(917 / W, 1 - 607 / H, "LEGEND", ha="left", va="center", fontsize=14,
                     fontweight="bold")
fig.canvas.draw()
bb = leg_title.get_window_extent(fig.canvas.get_renderer())
uy = (bb.y0 + 1) / H
fig.add_artist(Line2D([bb.x0 / W, bb.x1 / W], [uy, uy], transform=fig.transFigure,
                      color="black", linewidth=1.6))

fig.savefig("out.png", dpi=100)
